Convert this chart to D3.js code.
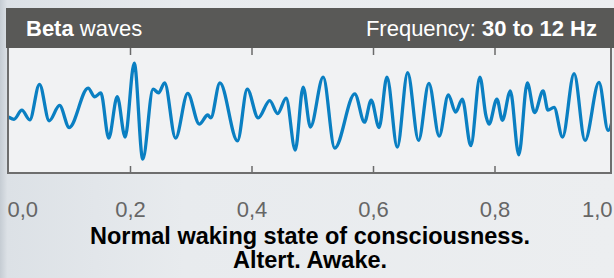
<!DOCTYPE html>
<html>
<head>
<meta charset="utf-8">
<script src="https://cdn.jsdelivr.net/npm/d3@7"></script>
<style>
  html, body { margin: 0; padding: 0; background: #e9ecee; }
  svg { display: block; font-family: "Liberation Sans", Arial, sans-serif; }
</style>
</head>
<body>
<svg id="chart" width="614" height="278"></svg>
<script>
// time in seconds (extrema of the trace)
const times = [0.000, 0.009, 0.022, 0.035, 0.051, 0.067, 0.084, 0.100, 0.131, 0.142,
  0.152, 0.165, 0.179, 0.192, 0.207, 0.221, 0.238, 0.247, 0.257, 0.275,
  0.295, 0.314, 0.328, 0.333, 0.348, 0.377, 0.393, 0.411, 0.430, 0.443,
  0.457, 0.472, 0.485, 0.497, 0.518, 0.537, 0.570, 0.586, 0.597, 0.610,
  0.623, 0.640, 0.657, 0.675, 0.692, 0.709, 0.724, 0.736, 0.747, 0.761,
  0.776, 0.786, 0.791, 0.804, 0.813, 0.826, 0.840, 0.854, 0.866, 0.880,
  0.888, 0.898, 0.912, 0.931, 0.949, 0.972, 0.987, 1.000];
// relative amplitude
const amps = [-0.04, -0.09, 0.10, -0.10, 0.64, -0.12, 0.20, -0.26, 0.56, 0.38,
  0.46, -0.48, 0.38, -0.46, 1.08, -0.92, 0.54, 0.46, 0.67, -0.48,
  0.45, -0.19, 0.00, -0.06, 0.67, -0.54, 0.54, -0.06, 0.30, 0.03,
  0.35, -0.73, 0.58, -0.25, 0.79, -0.69, 0.44, -0.15, 0.31, -0.26,
  0.79, -0.67, 0.88, -0.53, 0.66, -0.44, 0.42, 0.06, 0.33, -0.64,
  0.79, -0.02, -0.19, 0.33, -0.11, 0.50, -0.83, 0.67, 0.05, 0.50,
  0.10, 0.16, -0.46, 0.86, -0.53, 0.68, -0.32, 0.31];
const tickVals = [0, 0.2, 0.4, 0.6, 0.8, 1.0];
const tickLabels = ["0,0", "0,2", "0,4", "0,6", "0,8", "1,0"];

const svg = d3.select("#chart");
const box = {left: 8, right: 611, top: 48, bottom: 173};

// background
const defs = svg.append("defs");
const bg = defs.append("linearGradient").attr("id", "bg").attr("x1", 0).attr("x2", 1);
bg.append("stop").attr("offset", "0").attr("stop-color", "#c5ccd3");
bg.append("stop").attr("offset", "0.012").attr("stop-color", "#dce1e6");
bg.append("stop").attr("offset", "0.3").attr("stop-color", "#e8ebee");
bg.append("stop").attr("offset", "1").attr("stop-color", "#eceef0");
svg.append("rect").attr("width", 614).attr("height", 278).attr("fill", "url(#bg)");

defs.append("clipPath").attr("id", "clip")
  .append("rect").attr("x", box.left + 1).attr("y", box.top)
  .attr("width", box.right - box.left - 2).attr("height", box.bottom - box.top - 1);

// plot area
svg.append("rect").attr("x", box.left).attr("y", box.top)
  .attr("width", box.right - box.left).attr("height", box.bottom - box.top)
  .attr("fill", "#f1f2f3");

// header
svg.append("rect").attr("x", 6).attr("y", 8).attr("width", 608).attr("height", 40)
  .attr("fill", "#595957");
const h1 = svg.append("text").attr("x", 26).attr("y", 36)
  .attr("fill", "#fff").style("font-size", "22px");
h1.append("tspan").attr("font-weight", "bold").text("Beta");
h1.append("tspan").text(" waves");
const h2 = svg.append("text").attr("x", 597).attr("y", 36).attr("text-anchor", "end")
  .attr("fill", "#fff").style("font-size", "22px");
h2.append("tspan").text("Frequency: ");
h2.append("tspan").attr("font-weight", "bold").text("30 to 12 Hz");

const x = d3.scaleLinear().domain([0, 1]).range([8.5, 616]);
const y = d3.scaleLinear().domain([-1, 1]).range([163, 67]);

// top ticks
const topAxis = svg.append("g").attr("transform", `translate(0,${box.top})`)
  .call(d3.axisTop(x).tickValues(tickVals.slice(1, -1)).tickSizeInner(-7).tickSizeOuter(0).tickFormat(""));
topAxis.select(".domain").remove();

// bottom axis
const botAxis = svg.append("g").attr("transform", `translate(0,${box.bottom})`)
  .call(d3.axisBottom(x).tickValues(tickVals).tickSizeInner(-7).tickSizeOuter(0).tickPadding(28)
    .tickFormat((d, i) => tickLabels[i]));
botAxis.select(".domain").remove();
botAxis.selectAll("text").style("font-size", "22px").attr("fill", "#666")
  .attr("font-family", "'Liberation Sans', Arial, sans-serif");
botAxis.selectAll(".tick").filter(d => d === 0 || d === 1).select("line").remove();
botAxis.selectAll(".tick").filter(d => d === 0).select("text").attr("text-anchor", "start").attr("x", -1.5);
botAxis.selectAll(".tick").filter(d => d === 1).select("text").attr("text-anchor", "end").attr("x", -4);
svg.selectAll(".tick line").attr("stroke", "#6a6a6a").attr("stroke-width", 1.5);

// wave
const data = times.map((t, i) => ({t: t, a: amps[i]}));
svg.append("path").datum(data)
  .attr("clip-path", "url(#clip)")
  .attr("fill", "none").attr("stroke", "#0a7fc2").attr("stroke-width", 3.3)
  .attr("stroke-linejoin", "round")
  .attr("d", d3.line().x(d => x(d.t)).y(d => y(d.a)).curve(d3.curveMonotoneX));

// box border (left, bottom, right)
svg.append("path")
  .attr("d", `M${box.left},${box.top}V${box.bottom}H${box.right}V${box.top}`)
  .attr("fill", "none").attr("stroke", "#6e6e6e").attr("stroke-width", 2);

// caption
const cap = svg.append("text").attr("text-anchor", "middle").attr("fill", "#000")
  .attr("font-weight", "bold").style("font-size", "23.5px");
cap.append("tspan").attr("x", 310).attr("y", 244).text("Normal waking state of consciousness.");
cap.append("tspan").attr("x", 310).attr("y", 268).text("Altert. Awake.");
</script>
</body>
</html>
